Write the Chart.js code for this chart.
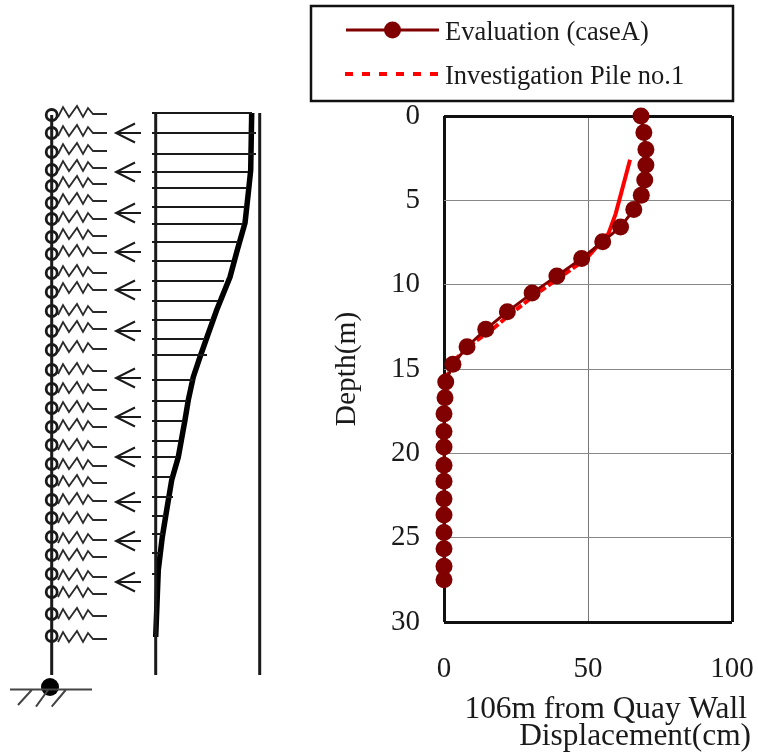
<!DOCTYPE html>
<html>
<head>
<meta charset="utf-8">
<style>
  html, body { margin: 0; padding: 0; background: #fff; }
  body { width: 758px; height: 754px; position: relative; overflow: hidden; }
  canvas { position: absolute; top: 0; left: 0; filter: blur(0.5px); }
</style>
<script src="https://cdn.jsdelivr.net/npm/chart.js@4/dist/chart.umd.js"></script>
</head>
<body>
<canvas id="model" width="300" height="754"></canvas>
<canvas id="chart" width="758" height="754"></canvas>
<script>
// right plot
const evalDepth = [0, 0.98, 1.98, 2.9, 3.8, 4.7, 5.55, 6.58, 7.45, 8.45, 9.48, 10.5, 11.6, 12.65, 13.68, 14.72, 15.77, 16.7, 17.66, 18.7, 19.63, 20.7, 21.65, 22.7, 23.65, 24.7, 25.66, 26.7, 27.5];
const evalDisp = [68.4, 69.4, 70.1, 70.1, 69.7, 68.5, 65.9, 61.3, 55.1, 47.8, 39.2, 30.6, 22, 14.5, 8, 3.1, 0.6, 0.35, 0, 0, 0, 0, 0, 0, 0, 0, 0, 0, 0];
const pileDepth = [2.6, 5.8, 6.97, 8.45, 10.4, 11.6, 12.6, 13.6, 14.35, 15.45];
const pileDisp = [64.6, 59.6, 57.1, 49.5, 33.3, 24.1, 17.1, 9, 4.4, 0.9];
const seriesNames = ['Evaluation (caseA)', 'Investigation Pile no.1'];
const xTitleLines = ['106m from Quay Wall', 'Displacement(cm)'];

// left schematic, in page pixels
const nodeY = [115, 133, 152, 170, 186, 203, 219, 237, 254, 273, 292, 311, 331, 350, 370, 389, 408, 427, 445, 464, 481, 500, 518, 537, 555, 574, 592, 614, 636];
const nodeBarY = [115, 133, 152, 170, 186, 203, 219, 237, 254, 273, 292, 311, 331, 350, 370, 389, 408, 427, 445, 464, 481, 500, 518, 555, 574, 592, 614];
const springY = [114, 133, 151, 168, 184, 201, 219, 236, 253, 273, 290, 312, 329, 349, 371, 390, 409, 427, 447, 466, 483, 501, 520, 540, 557, 577, 594, 616, 639];
const springShapeX = [58, 63, 69, 77, 83, 88, 93, 107];
const springShapeDy = [3, -7, 3, -8, 3, -6, 0, 0];
const arrowY = [133, 172, 213, 252, 290, 331, 378, 417, 457, 502, 541, 582];
const curveX = [251.7, 250.7, 248.3, 245, 237.3, 230, 216.7, 206.7, 200, 193.3, 188.3, 185, 178.3, 171.7, 166.7, 162.3, 158.3, 155.7];
const curveY = [113, 170, 193, 223, 250, 277, 310, 338, 357, 377, 400, 420, 457, 480, 510, 537, 570, 637];
const hatchY = [113, 133, 154, 172, 188, 207, 224, 242, 261, 281, 301, 320, 339, 355, 380, 401, 421, 441, 457, 477, 497, 516, 534, 553, 574];
const hatchEnd = [252, 256, 256, 248, 247, 245, 243, 238, 232, 224, 218, 212, 205, 207, 193, 187, 183, 179, 177, 171, 173, 165, 163, 160, 157];

const inkColor = '#1a1a1a';
const serif = '"Liberation Serif"';

function pts(xs, ys) {
  return xs.map((x, i) => ({ x: x, y: ys[i] }));
}

// several separate strokes in one dataset, split by empty points
function strokes(list) {
  const out = [];
  list.forEach(s => {
    s.forEach(p => out.push({ x: p[0], y: p[1] }));
    out.push({ x: null, y: null });
  });
  return out;
}

function lineSet(data, width, color) {
  return {
    data: data, borderColor: color || inkColor, borderWidth: width,
    pointRadius: 0, spanGaps: false, tension: 0, clip: false, borderCapStyle: 'butt'
  };
}

const springs = springY.map(y => springShapeX.map((x, i) => [x, y + springShapeDy[i]]));
const arrows = [];
arrowY.forEach(y => {
  arrows.push([[141, y], [116, y]]);
  arrows.push([[135, y - 9.5], [116, y], [135, y + 9.5]]);
});
const hatches = hatchY.map((y, i) => [[152, y], [hatchEnd[i], y]]);

new Chart(document.getElementById('model'), {
  type: 'line',
  data: {
    datasets: [
      lineSet(strokes([[[51.7, 115], [51.7, 675]]]), 3),
      lineSet(strokes(springs), 1.8, '#2a2a2a'),
      lineSet(strokes(arrows), 2),
      lineSet(strokes([[[155.7, 113], [155.7, 675]], [[259.7, 113], [259.7, 675]]]), 3),
      lineSet(strokes(hatches), 2),
      lineSet(pts(curveX, curveY), 5.5, '#000'),
      lineSet(strokes([[[10, 689.5], [92, 689.5]], [[31.7, 690], [18, 705]], [[48, 690], [36, 706.7]], [[65.7, 690], [51.7, 706.7]]]), 2, '#444'),
      {
        data: nodeY.map(y => ({ x: 51.7, y: y })), showLine: false, clip: false,
        pointStyle: 'circle', pointRadius: 5.5, pointBorderWidth: 2.8,
        pointBackgroundColor: '#fff', pointBorderColor: inkColor
      },
      {
        data: nodeBarY.map(y => ({ x: 51.7, y: y })), showLine: false, clip: false,
        pointStyle: 'line', pointRadius: 5, pointBorderWidth: 1.8, pointBorderColor: inkColor
      },
      {
        data: [{ x: 50, y: 687 }], showLine: false, clip: false,
        pointStyle: 'circle', pointRadius: 9, pointBorderWidth: 0, pointBackgroundColor: '#000'
      }
    ]
  },
  options: {
    responsive: false, animation: false, events: [],
    layout: { padding: 0, autoPadding: false },
    plugins: { legend: { display: false }, tooltip: { enabled: false } },
    scales: {
      x: { type: 'linear', display: false, min: 0, max: 300 },
      y: { type: 'linear', display: false, min: 0, max: 754, reverse: true }
    }
  }
});

// legend box and the two-line x title sit outside what the scale can place
const annotations = {
  id: 'annotations',
  afterDraw(chart) {
    const ctx = chart.ctx;
    const sets = chart.data.datasets;
    ctx.save();
    ctx.strokeStyle = '#111';
    ctx.lineWidth = 2.5;
    ctx.strokeRect(311, 6, 422, 95);

    ctx.setLineDash([]);
    ctx.strokeStyle = sets[0].borderColor;
    ctx.lineWidth = sets[0].borderWidth;
    ctx.beginPath(); ctx.moveTo(346, 30); ctx.lineTo(439, 30); ctx.stroke();
    ctx.fillStyle = sets[0].pointBackgroundColor;
    ctx.beginPath(); ctx.arc(392.5, 30, sets[0].pointRadius, 0, Math.PI * 2); ctx.fill();

    ctx.strokeStyle = sets[1].borderColor;
    ctx.lineWidth = sets[1].borderWidth;
    ctx.setLineDash([8, 9]);
    ctx.beginPath(); ctx.moveTo(345, 74); ctx.lineTo(438, 74); ctx.stroke();
    ctx.setLineDash([]);

    ctx.fillStyle = inkColor;
    ctx.font = '26.5px ' + serif;
    ctx.textAlign = 'left';
    ctx.textBaseline = 'alphabetic';
    ctx.fillText(sets[0].label, 445, 40);
    ctx.fillText(sets[1].label, 445, 84);

    ctx.font = '31.4px ' + serif;
    ctx.textAlign = 'right';
    ctx.fillText(xTitleLines[0], 747, 718);
    ctx.fillText(xTitleLines[1], 751, 745);
    ctx.restore();
  }
};

new Chart(document.getElementById('chart'), {
  type: 'line',
  data: {
    datasets: [
      {
        label: seriesNames[0],
        data: pts(evalDisp, evalDepth),
        borderColor: '#800000', borderWidth: 3,
        pointRadius: 8.5, pointHoverRadius: 8.5, pointBorderWidth: 0,
        pointBackgroundColor: '#800000',
        tension: 0, clip: false, order: 0
      },
      {
        label: seriesNames[1],
        data: pts(pileDisp, pileDepth),
        borderColor: '#ff0000', borderWidth: 4,
        pointRadius: 0,
        segment: { borderDash: c => c.p0DataIndex < 3 ? [] : [7, 3] },
        tension: 0, clip: false, order: 1
      }
    ]
  },
  options: {
    responsive: false, animation: false, events: [],
    layout: { padding: { left: 330, right: 26, top: 116, bottom: 0 }, autoPadding: false },
    plugins: { legend: { display: false }, tooltip: { enabled: false } },
    scales: {
      x: {
        type: 'linear', position: 'bottom', min: 0, max: 100,
        afterFit(s) { s.height = 132; s.paddingLeft = 0; s.paddingRight = 0; },
        border: { display: false },
        grid: {
          drawTicks: false,
          color: c => (c.tick.value === 0 || c.tick.value === 100) ? '#111' : '#777',
          lineWidth: c => (c.tick.value === 0 || c.tick.value === 100) ? 3 : 1
        },
        ticks: {
          stepSize: 50, padding: 30, maxRotation: 0, color: inkColor,
          font: { family: serif, size: 29 }
        }
      },
      y: {
        type: 'linear', position: 'left', min: 0, max: 30, reverse: true,
        afterFit(s) { s.width = 114; s.paddingTop = 0; s.paddingBottom = 0; },
        border: { display: false },
        grid: {
          drawTicks: false,
          color: c => (c.tick.value === 0 || c.tick.value === 30) ? '#111' : '#888',
          lineWidth: c => (c.tick.value === 0 || c.tick.value === 30) ? 3 : 1
        },
        ticks: {
          stepSize: 5, padding: 24, color: inkColor,
          font: { family: serif, size: 29 }
        },
        title: {
          display: true, text: 'Depth(m)', color: inkColor,
          padding: { top: 0, bottom: 0 },
          font: { family: serif, size: 29.5 }
        }
      }
    }
  },
  plugins: [annotations]
});
</script>
</body>
</html>
